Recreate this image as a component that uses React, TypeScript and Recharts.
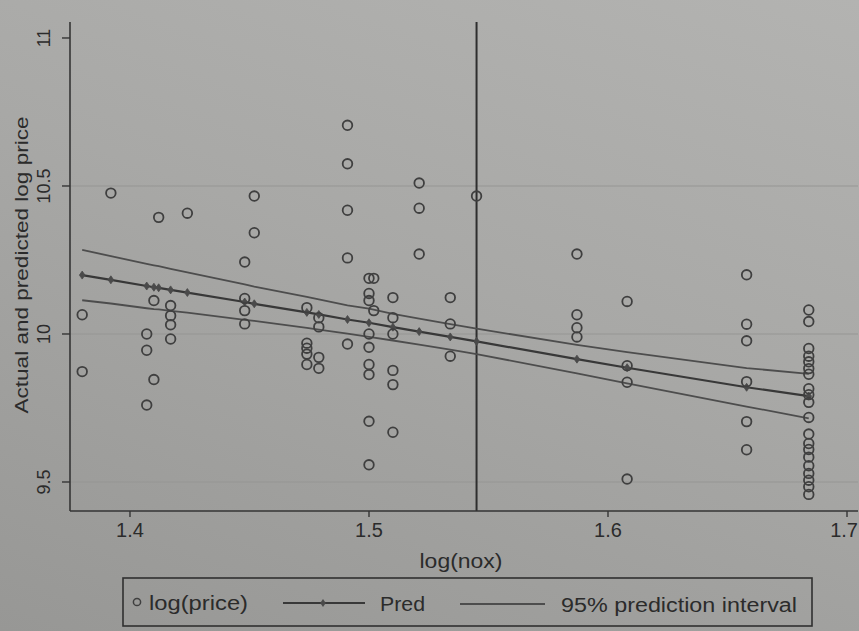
import React from 'react';
import { ComposedChart, Scatter, Line, XAxis, YAxis, ReferenceLine } from 'recharts';

// Fitted line x-values (log nox) with prediction and 95% interval bounds
const fitNox = [1.380, 1.392, 1.407, 1.410, 1.412, 1.417, 1.424, 1.448, 1.452, 1.474, 1.479, 1.491, 1.500, 1.510, 1.521, 1.534, 1.545, 1.587, 1.608, 1.658, 1.684];
const predPrice = [10.199, 10.183, 10.162, 10.158, 10.156, 10.149, 10.140, 10.108, 10.102, 10.073, 10.066, 10.049, 10.038, 10.023, 10.008, 9.990, 9.975, 9.915, 9.886, 9.820, 9.790];
const upperPrice = [10.284, 10.263, 10.237, 10.232, 10.229, 10.220, 10.208, 10.168, 10.160, 10.125, 10.117, 10.097, 10.086, 10.068, 10.052, 10.033, 10.018, 9.963, 9.939, 9.885, 9.865];
const lowerPrice = [10.114, 10.103, 10.087, 10.084, 10.083, 10.078, 10.072, 10.048, 10.044, 10.021, 10.015, 10.001, 9.990, 9.978, 9.964, 9.947, 9.932, 9.867, 9.833, 9.755, 9.715];

// Observed log(price) points
const obsNox = [
  1.380, 1.380,
  1.392,
  1.407, 1.407, 1.407,
  1.410, 1.410,
  1.412,
  1.417, 1.417, 1.417, 1.417,
  1.424,
  1.448, 1.448, 1.448, 1.448,
  1.452, 1.452,
  1.474, 1.474, 1.474, 1.474, 1.474,
  1.479, 1.479, 1.479, 1.479,
  1.491, 1.491, 1.491, 1.491, 1.491,
  1.500, 1.500, 1.500, 1.500, 1.500, 1.500, 1.500, 1.500, 1.500,
  1.502, 1.502,
  1.510, 1.510, 1.510, 1.510, 1.510, 1.510,
  1.521, 1.521, 1.521,
  1.534, 1.534, 1.534,
  1.545,
  1.587, 1.587, 1.587, 1.587,
  1.608, 1.608, 1.608, 1.608,
  1.658, 1.658, 1.658, 1.658, 1.658, 1.658,
  1.684, 1.684, 1.684, 1.684, 1.684, 1.684, 1.684, 1.684, 1.684, 1.684,
  1.684, 1.684, 1.684, 1.684, 1.684, 1.684, 1.684, 1.684, 1.684, 1.684,
];
const obsPrice = [
  10.065, 9.873,
  10.476,
  10.000, 9.945, 9.760,
  10.113, 9.846,
  10.394,
  10.096, 10.062, 10.031, 9.983,
  10.408,
  10.243, 10.120, 10.079, 10.034,
  10.466, 10.342,
  10.089, 9.969, 9.952, 9.932, 9.897,
  10.055, 10.024, 9.921, 9.884,
  10.705, 10.575, 10.418, 10.257, 9.966,
  10.188, 10.137, 10.113, 10.000, 9.955, 9.897, 9.863, 9.705, 9.558,
  10.188, 10.079,
  10.123, 10.055, 10.000, 9.877, 9.829, 9.668,
  10.510, 10.425, 10.270,
  10.123, 10.034, 9.925,
  10.466,
  10.270, 10.065, 10.021, 9.990,
  10.110, 9.893, 9.837, 9.510,
  10.200, 10.033, 9.977, 9.839, 9.704, 9.609,
  10.081, 10.042, 9.951, 9.925, 9.906, 9.883, 9.864, 9.815, 9.795, 9.769,
  9.718, 9.662, 9.630, 9.610, 9.584, 9.555, 9.529, 9.506, 9.484, 9.458,
];

const xTicks = [1.4, 1.5, 1.6, 1.7];
const yTicks = [9.5, 10, 10.5, 11];
const gridY = [9.5, 10, 10.5];
const meanNox = 1.545;

const fitData = fitNox.map((x, i) => ({ x, pred: predPrice[i], upper: upperPrice[i], lower: lowerPrice[i] }));
const obsData = obsNox.map((x, i) => ({ x, y: obsPrice[i] }));

const FONT = '"Liberation Sans", Arial, Helvetica, sans-serif';
const INK = '#2b2b2b';

const XTick = (props: any) => {
  const { x, payload } = props;
  const last = payload.value === xTicks[xTicks.length - 1];
  return (
    <text
      x={last ? 858 : x}
      y={537}
      textAnchor={last ? 'end' : 'middle'}
      fontFamily={FONT}
      fontSize={20}
      fill={INK}
    >
      {String(payload.value)}
    </text>
  );
};

const YTick = (props: any) => {
  const { y, payload } = props;
  return (
    <text
      x={50}
      y={y}
      transform={`rotate(-90, 50, ${y})`}
      textAnchor="middle"
      fontFamily={FONT}
      fontSize={18}
      fill={INK}
    >
      {String(payload.value)}
    </text>
  );
};

const Ring = (props: any) => (
  <circle cx={props.cx} cy={props.cy} r={4.8} fill="none" stroke="#3f3f3f" strokeWidth={1.8} />
);

const PredDot = (props: any) => {
  const { cx, cy, index } = props;
  return (
    <path
      key={`pd-${index}`}
      d={`M${cx},${cy - 4}L${cx + 2.8},${cy}L${cx},${cy + 4}L${cx - 2.8},${cy}Z`}
      fill="#4a4a4a"
      stroke="#4a4a4a"
      strokeWidth={0.8}
    />
  );
};

export default function App() {
  return (
    <div
      style={{
        position: 'absolute',
        left: 0,
        top: 0,
        width: 859,
        height: 631,
        overflow: 'hidden',
        background: 'linear-gradient(200deg, #b3b3b1 0%, #a8a8a6 45%, #979795 100%)',
      }}
    >
      <ComposedChart width={859} height={631} data={fitData} margin={{ top: 22, right: 1, bottom: 90, left: 0 }}>
        <XAxis
          dataKey="x"
          type="number"
          domain={[1.3749, 1.7046]}
          ticks={xTicks}
          tick={<XTick />}
          tickSize={6}
          height={30}
          axisLine={{ stroke: '#353535', strokeWidth: 1.6 }}
          tickLine={{ stroke: '#353535', strokeWidth: 1.4 }}
          allowDataOverflow
        />
        <YAxis
          type="number"
          domain={[9.402, 11.054]}
          ticks={yTicks}
          tick={<YTick />}
          tickSize={8}
          width={70}
          axisLine={{ stroke: '#353535', strokeWidth: 1.6 }}
          tickLine={{ stroke: '#353535', strokeWidth: 1.4 }}
          allowDataOverflow
        />
        {gridY.map((v) => (
          <ReferenceLine key={`g${v}`} y={v} stroke="#959593" strokeWidth={1.2} />
        ))}
        <ReferenceLine x={meanNox} stroke="#2e2e2e" strokeWidth={2} />
        <Line dataKey="upper" type="linear" stroke="#4d4d4d" strokeWidth={1.8} dot={false} isAnimationActive={false} />
        <Line dataKey="lower" type="linear" stroke="#4d4d4d" strokeWidth={1.8} dot={false} isAnimationActive={false} />
        <Line dataKey="pred" type="linear" stroke="#383838" strokeWidth={2.2} dot={PredDot} isAnimationActive={false} />
        <Scatter data={obsData} dataKey="y" shape={Ring} isAnimationActive={false} />
      </ComposedChart>

      <svg width={859} height={631} style={{ position: 'absolute', left: 0, top: 0, pointerEvents: 'none' }}>
        {/* Axis titles */}
        <text
          x={28}
          y={265}
          transform="rotate(-90, 28, 265)"
          textAnchor="middle"
          fontFamily={FONT}
          fontSize={18}
          fill={INK}
          textLength={297}
          lengthAdjust="spacingAndGlyphs"
        >
          Actual and predicted log price
        </text>
        <text x={461} y={568} textAnchor="middle" fontFamily={FONT} fontSize={20} fill={INK} textLength={83} lengthAdjust="spacingAndGlyphs">
          log(nox)
        </text>

        {/* Legend */}
        <rect x={123} y={578} width={689} height={48} fill="none" stroke="#303030" strokeWidth={1.6} />
        <circle cx={137} cy={602} r={3.6} fill="none" stroke="#3f3f3f" strokeWidth={1.5} />
        <text x={149} y={610} fontFamily={FONT} fontSize={20} fill={INK} textLength={99} lengthAdjust="spacingAndGlyphs">
          log(price)
        </text>
        <line x1={283} y1={603} x2={365} y2={603} stroke="#383838" strokeWidth={2.2} />
        <path d="M323,599L325.8,603L323,607L320.2,603Z" fill="#4a4a4a" />
        <text x={380} y={611} fontFamily={FONT} fontSize={20} fill={INK} textLength={45} lengthAdjust="spacingAndGlyphs">
          Pred
        </text>
        <line x1={460} y1={604} x2={545} y2={604} stroke="#4d4d4d" strokeWidth={1.8} />
        <text x={561} y={612} fontFamily={FONT} fontSize={20} fill={INK} textLength={236} lengthAdjust="spacingAndGlyphs">
          95% prediction interval
        </text>
      </svg>
    </div>
  );
}
